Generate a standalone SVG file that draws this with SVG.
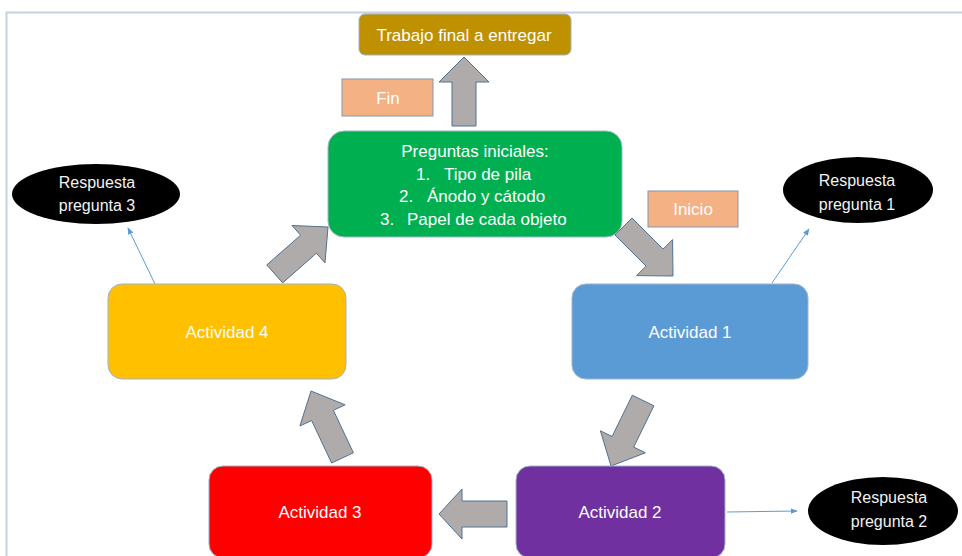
<svg xmlns="http://www.w3.org/2000/svg" width="962" height="556" viewBox="0 0 962 556">
<defs>
<style>
.t{font-family:"Liberation Sans",Arial,sans-serif;fill:#ffffff;text-anchor:middle;font-size:17px}
.r{font-family:"Liberation Sans",Arial,sans-serif;fill:#f2f2f2;text-anchor:middle;font-size:16px}
.box{stroke:#9fb3cc;stroke-width:1}
.tag{fill:#f4b183;stroke:#8497b0;stroke-width:1}
.blk{fill:#afabab;stroke:#52718f;stroke-width:1;stroke-linejoin:miter}
.ln{stroke:#5b9bd5;stroke-width:1;fill:none;marker-end:url(#ah)}
</style>
<marker id="ah" viewBox="0 0 10 10" refX="9" refY="5" markerWidth="7" markerHeight="7" markerUnits="userSpaceOnUse" orient="auto">
<path d="M0,1 L10,5 L0,9 z" fill="#5b9bd5"/>
</marker>
</defs>
<rect width="962" height="556" fill="#ffffff"/>
<path d="M6.5,556 V12.5 H962" fill="none" stroke="#c5d1e3" stroke-width="2"/>

<g id="connectors">
<polygon class="blk" points="452,126 452,82 439,82 464,57 489,82 476,82 476,126"/>
<polygon class="blk" points="632,218 663.1,249.1 672.6,239.6 673,276 636.6,275.6 646.1,266.1 615,235"/>
<polygon class="blk" points="653.9,405.8 633.7,447.1 645.4,452.8 611,466 600.4,430.8 612.1,436.5 632.3,395.2"/>
<polygon class="blk" points="507,501 462,501 462,489 439,514 462,539 462,527 507,527"/>
<polygon class="blk" points="353.4,452.8 333.4,410.3 345.1,404.8 311,391 299.9,426 311.6,420.5 331.6,463"/>
<polygon class="blk" points="266.8,264.9 300.6,235.2 292,225.5 328,227 325,262.9 316.4,253.2 282.7,282.9"/>
<line class="ln" x1="155" y1="284" x2="128" y2="228"/>
<line class="ln" x1="772" y1="283" x2="809" y2="229"/>
<line class="ln" x1="727" y1="512" x2="797" y2="511"/>
</g>

<g id="trabajo">
<rect class="box" x="359" y="14" width="212" height="41" rx="6" fill="#bf9000"/>
<text class="t" x="464" y="41">Trabajo final a entregar</text>
</g>

<g id="fin">
<rect class="tag" x="342" y="79" width="91" height="37"/>
<text class="t" x="388" y="104">Fin</text>
</g>

<g id="inicio">
<rect class="tag" x="648" y="191" width="90" height="36"/>
<text class="t" x="693" y="215">Inicio</text>
</g>

<g id="preguntas">
<rect class="box" x="328" y="131" width="294" height="106" rx="16" fill="#00b050"/>
<text class="t" x="475" y="157">Preguntas iniciales:</text>
<text class="t" style="text-anchor:start" y="179.5"><tspan x="416">1.</tspan><tspan x="444">Tipo de pila</tspan></text>
<text class="t" style="text-anchor:start" y="202"><tspan x="399">2.</tspan><tspan x="427">Ánodo y cátodo</tspan></text>
<text class="t" style="text-anchor:start" y="224.5"><tspan x="380">3.</tspan><tspan x="407">Papel de cada objeto</tspan></text>
</g>

<g id="actividad1">
<rect class="box" x="572" y="284" width="236" height="95" rx="14" fill="#5b9bd5"/>
<text class="t" x="690" y="338">Actividad 1</text>
</g>

<g id="actividad2">
<rect class="box" x="516" y="466" width="209" height="92" rx="14" fill="#7030a0"/>
<text class="t" x="620" y="518">Actividad 2</text>
</g>

<g id="actividad3">
<rect class="box" x="209" y="466" width="223" height="92" rx="14" fill="#ff0000"/>
<text class="t" x="320" y="518">Actividad 3</text>
</g>

<g id="actividad4">
<rect class="box" x="108" y="284" width="238" height="95" rx="14" fill="#ffc000"/>
<text class="t" x="227" y="338">Actividad 4</text>
</g>

<g id="respuesta3">
<ellipse cx="96" cy="194" rx="84" ry="30" fill="#000000"/>
<text class="r" x="97" y="188">Respuesta</text>
<text class="r" x="97" y="211">pregunta 3</text>
</g>

<g id="respuesta1">
<ellipse cx="858" cy="190" rx="75" ry="33" fill="#000000"/>
<text class="r" x="857" y="186">Respuesta</text>
<text class="r" x="857" y="210">pregunta 1</text>
</g>

<g id="respuesta2">
<ellipse cx="883" cy="511" rx="75" ry="34" fill="#000000"/>
<text class="r" x="889" y="503">Respuesta</text>
<text class="r" x="889" y="527">pregunta 2</text>
</g>
</svg>
